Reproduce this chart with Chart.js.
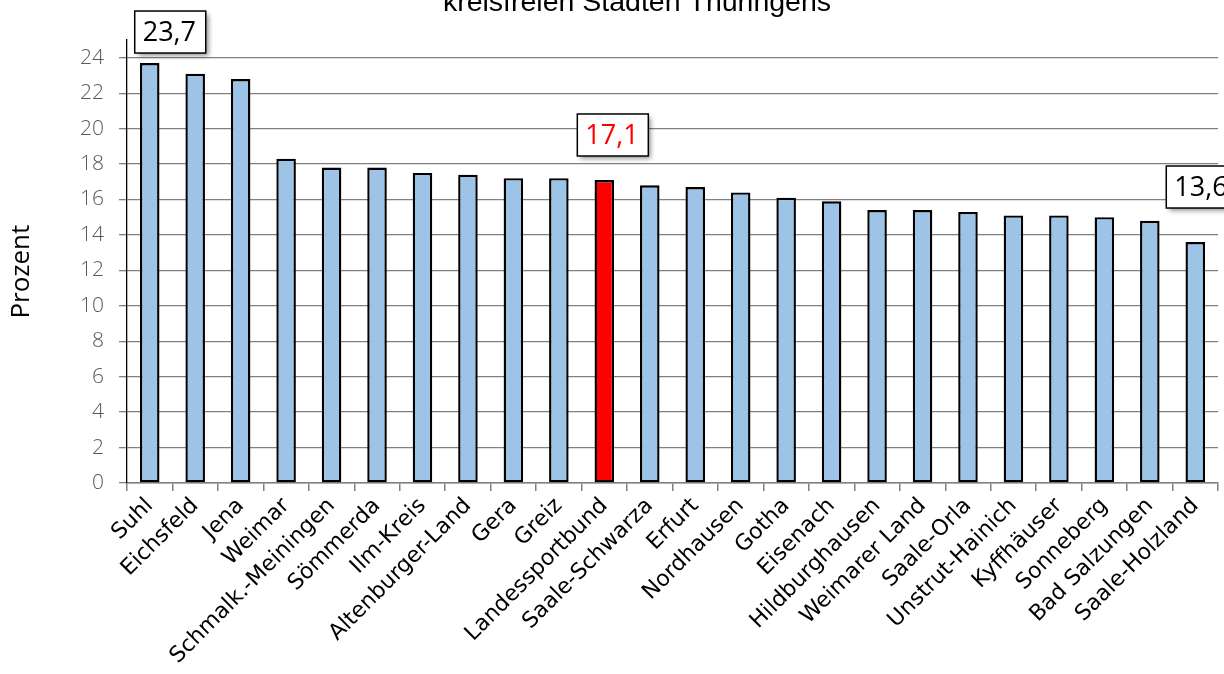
<!DOCTYPE html>
<html>
<head>
<meta charset="utf-8">
<script src="https://cdn.jsdelivr.net/npm/chart.js@4.4.1/dist/chart.umd.min.js"></script>
<style>
html,body{margin:0;padding:0;background:#fff;overflow:hidden;}
canvas{display:block;}
</style>
</head>
<body>
<canvas id="c" width="1224" height="674" style="width:1224px;height:674px"></canvas>
<script>
const titleText = "kreisfreien Städten Thüringens";
const axisTitle = "Prozent   ";
const categories = ["Suhl","Eichsfeld","Jena","Weimar","Schmalk.-Meiningen","Sömmerda","Ilm-Kreis","Altenburger-Land","Gera","Greiz","Landessportbund","Saale-Schwarza","Erfurt","Nordhausen","Gotha","Eisenach","Hildburghausen","Weimarer Land","Saale-Orla","Unstrut-Hainich","Kyffhäuser","Sonneberg","Bad Salzungen","Saale-Holzland"];
const values = [23.7,23.1,22.8,18.3,17.8,17.8,17.5,17.4,17.2,17.2,17.1,16.8,16.7,16.4,16.1,15.9,15.4,15.4,15.3,15.1,15.1,15.0,14.8,13.6];
const highlightIndex = 10;
const yTickValues = [0,2,4,6,8,10,12,14,16,18,20,22,24];
const labelledIndices = [0, 10, 23];
const labelTexts = ["23,7", "17,1", "13,6"];

const barColors = categories.map((c,i)=> i===highlightIndex ? '#FF0000' : '#9DC3E6');

const labelBoxStyle = [
  {dx:-15, dy:-10, color:'#000'},
  {dx:-27, dy:-24, color:'#FF0000'},
  {dx:-29, dy:-34, color:'#000'}
];

const boxPlugin = {
  id:'boxes',
  afterDatasetsDraw(chart){
    const ctx = chart.ctx;
    const meta = chart.getDatasetMeta(0);
    labelledIndices.forEach((idx,k)=>{
      const bar = meta.data[idx];
      const st = labelBoxStyle[k];
      const w = 71, h = 42;
      const x = bar.x + st.dx;
      const y = bar.y + st.dy - h;
      ctx.save();
      ctx.shadowColor = 'rgba(0,0,0,0.45)';
      ctx.shadowBlur = 5;
      ctx.shadowOffsetX = 3;
      ctx.shadowOffsetY = 3;
      ctx.fillStyle = '#fff';
      ctx.fillRect(x, y, w, h);
      ctx.restore();
      ctx.save();
      ctx.strokeStyle = '#000';
      ctx.lineWidth = 1.5;
      ctx.strokeRect(x, y, w, h);
      ctx.fillStyle = st.color;
      ctx.font = '27px "Open Sans", sans-serif';
      ctx.textAlign = 'left';
      ctx.textBaseline = 'middle';
      ctx.fillText(labelTexts[k], x + 8, y + h/2 + 1);
      ctx.restore();
    });
  },
  afterDraw(chart){
    const ctx = chart.ctx;
    ctx.save();
    ctx.fillStyle = '#000';
    ctx.font = '28.5px "Liberation Sans", Arial, sans-serif';
    ctx.textAlign = 'center';
    ctx.textBaseline = 'alphabetic';
    ctx.fillText(titleText, 637, 11);
    ctx.restore();
  }
};

new Chart(document.getElementById('c'), {
  type:'bar',
  data:{
    labels:categories,
    datasets:[{
      data:values,
      backgroundColor:barColors,
      borderColor:'#000',
      borderWidth:2.4,
      borderSkipped:false,
      barPercentage:0.43,
      categoryPercentage:1.0
    }]
  },
  options:{
    responsive:false,
    animation:false,
    devicePixelRatio:1,
    layout:{padding:{top:40,left:0,right:6,bottom:0}},
    plugins:{legend:{display:false},tooltip:{enabled:false},title:{display:false}},
    scales:{
      x:{
        grid:{display:true,drawOnChartArea:false,drawTicks:true,tickLength:8,color:'#808080',lineWidth:1.5,offset:true},
        border:{display:true,color:'#808080',width:1.5},
        ticks:{autoSkip:false,minRotation:45,maxRotation:45,color:'#000',padding:2,font:{family:'DejaVu Sans',size:22}},
        afterFit(s){ s.height = 191; }
      },
      y:{
        min:0,max:25,
        afterBuildTicks(s){ s.ticks = yTickValues.map(v=>({value:v})); },
        ticks:{color:'#595959',padding:15,font:{family:'Open Sans',size:21,weight:'300'}},
        grid:{color:'#808080',lineWidth:1.3,tickLength:8,drawTicks:true},
        border:{display:true,color:'#000',width:1.3},
        title:{display:true,text:axisTitle,color:'#000',padding:{top:6,bottom:0},font:{family:'Open Sans',size:26}},
        afterFit(s){ s.width = 127; }
      }
    }
  },
  plugins:[boxPlugin]
});
</script>
</body>
</html>
